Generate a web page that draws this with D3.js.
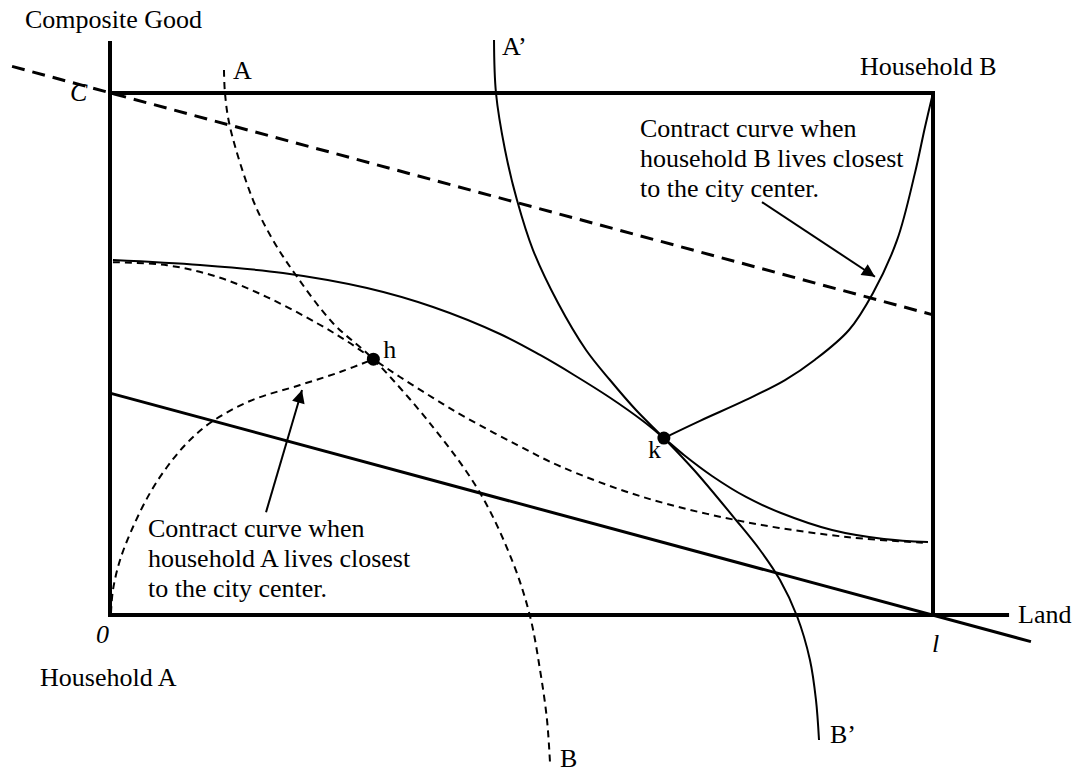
<!DOCTYPE html>
<html>
<head>
<meta charset="utf-8">
<script src="https://cdn.jsdelivr.net/npm/d3@7"></script>
<style>
  body { margin: 0; background: #fff; }
  text { font-family: "Liberation Serif", "Times New Roman", serif; fill: #000; }
</style>
</head>
<body>
<div id="d3-container"></div>
<script>
/* CONSTANTS AND GLOBALS */
const width = 1079,
  height = 776,
  fontSize = 26;

// box: land on x, composite good on y, both 0..100
const landDomain = [0, 100];
const goodDomain = [0, 100];

// the two marked allocations
const pointH = [32, 49];
const pointK = [67.3, 33.9];

// budget line through l, and the dashed price line through C
const budgetLine = [[0, 42.5], [111.9, -5.1]];
const priceLine = [[-11.9, 105.1], [100, 57.5]];

// indifference curve A ... B (dashed)
const curveAB = [
  [13.85, 104.4], [13.97, 100], [14.58, 93.5], [17.38, 79.5], [19.81, 71.8],
  [22.72, 64.8], [27.1, 55.9], [32, 49], [39.25, 36.0], [44.96, 23.4],
  [48.97, 10.0], [51.03, -0.2], [52.25, -10.5], [53.1, -20.1], [53.46, -28.2]
];

// indifference curve A' ... B' (solid)
const curveAB2 = [
  [46.66, 110.15], [46.9, 100], [48.0, 89.08], [49.45, 79.5], [51.4, 69.92],
  [54.44, 59.77], [57.84, 50.77], [60.75, 45.02], [63.91, 39.27], [67.3, 33.9],
  [70.96, 27.78], [76.06, 18.2], [78.98, 12.45], [81.41, 6.7], [83.47, -0.19],
  [85.05, -8.62], [85.78, -16.28], [86.15, -23.95]
];

// indifference curve through k (solid)
const curveBk = [
  [0.36, 68.01], [10.94, 67.05], [21.02, 65.52], [31.23, 62.64], [39.25, 59.0],
  [47.39, 53.83], [52.25, 49.81], [56.38, 45.98], [60.63, 41.76], [64.76, 37.16],
  [67.3, 33.9], [69.74, 30.65], [73.15, 26.63], [77.28, 22.61], [81.53, 19.54],
  [87.73, 16.28], [94.05, 14.56], [99.39, 13.98]
];

// indifference curve through h (dashed)
const curveBh = [
  [0.36, 67.6], [6.93, 67.0], [13.0, 64.8], [19.08, 60.9], [25.15, 55.9],
  [28.55, 52.7], [32, 49], [35.24, 45.6], [39.25, 41.6], [43.38, 37.7],
  [49.45, 32.6], [54.68, 28.5], [64.76, 22.6], [77.28, 17.8], [89.79, 14.9],
  [99.39, 13.8]
];

// contract curve when A lives closest (dashed, 0 to h)
const contractA = [
  [0.12, 0.38], [0.36, 4.79], [1.22, 10.54], [2.79, 16.86], [4.86, 23.37],
  [6.93, 28.35], [9.36, 32.95], [12.15, 36.78], [17.01, 41.0], [23.09, 44.06],
  [27.95, 46.55], [32, 49]
];

// contract curve when B lives closest (solid, k to household B origin)
const contractB = [
  [67.3, 33.9], [71.69, 37.2], [77.28, 41.2], [82.02, 45.0], [85.66, 48.9],
  [89.79, 54.6], [92.71, 61.7], [95.63, 71.8], [97.81, 84.7], [99.03, 93.5],
  [100, 100]
];

// annotation arrows [from, to]
const arrowA = [[18.96, 19.7], [23.33, 43.1]];
const arrowB = [[79.22, 79.1], [92.95, 64.8]];

const noteA = ["Contract curve when", "household A lives closest", "to the city center."];
const noteB = ["Contract curve when", "household B lives closest", "to the city center."];

let svg;
let xScale;
let yScale;

init();

function init() {
  xScale = d3.scaleLinear().domain(landDomain).range([110, 933]);
  yScale = d3.scaleLinear().domain(goodDomain).range([615, 93]);

  svg = d3.select("#d3-container")
    .append("svg")
    .attr("width", width)
    .attr("height", height);

  svg.append("defs").append("marker")
    .attr("id", "arrow")
    .attr("viewBox", "0 0 10 10")
    .attr("refX", 10)
    .attr("refY", 5)
    .attr("markerUnits", "userSpaceOnUse")
    .attr("markerWidth", 17)
    .attr("markerHeight", 13)
    .attr("orient", "auto")
    .append("path")
    .attr("d", "M0,0 L10,5 L0,10 Z")
    .attr("fill", "#000");

  draw();
}

function draw() {
  const line = d3.line()
    .x(d => xScale(d[0]))
    .y(d => yScale(d[1]));
  const smooth = d3.line()
    .x(d => xScale(d[0]))
    .y(d => yScale(d[1]))
    .curve(d3.curveCatmullRom.alpha(0.5));

  // box frame and axes
  const frame = [
    [[0, 109.6], [0, 0]],          // vertical axis
    [[0, 0], [109, 0]],            // land axis
    [[0, 100], [100, 100]],        // top of box
    [[100, 100], [100, 0]]         // right of box
  ];
  svg.selectAll("path.frame")
    .data(frame)
    .join("path")
    .attr("class", "frame")
    .attr("d", line)
    .attr("fill", "none")
    .attr("stroke", "#000")
    .attr("stroke-width", 4)
    .attr("stroke-linecap", "square");

  // budget line and price line
  svg.append("path")
    .attr("d", line(budgetLine))
    .attr("fill", "none")
    .attr("stroke", "#000")
    .attr("stroke-width", 3);

  svg.append("path")
    .attr("d", line(priceLine))
    .attr("fill", "none")
    .attr("stroke", "#000")
    .attr("stroke-width", 3)
    .attr("stroke-dasharray", "13,8");

  // curves
  const curves = [
    { pts: curveAB, dash: "7,5" },
    { pts: curveAB2, dash: null },
    { pts: curveBk, dash: null },
    { pts: curveBh, dash: "7,5" },
    { pts: contractA, dash: "7,5" },
    { pts: contractB, dash: null }
  ];
  svg.selectAll("path.curve")
    .data(curves)
    .join("path")
    .attr("class", "curve")
    .attr("d", d => smooth(d.pts))
    .attr("fill", "none")
    .attr("stroke", "#000")
    .attr("stroke-width", 2)
    .attr("stroke-dasharray", d => d.dash);

  // arrows
  svg.selectAll("path.arrow")
    .data([arrowA, arrowB])
    .join("path")
    .attr("class", "arrow")
    .attr("d", line)
    .attr("stroke", "#000")
    .attr("stroke-width", 2)
    .attr("marker-end", "url(#arrow)");

  // points h and k
  svg.selectAll("circle")
    .data([pointH, pointK])
    .join("circle")
    .attr("cx", d => xScale(d[0]))
    .attr("cy", d => yScale(d[1]))
    .attr("r", 6.5)
    .attr("fill", "#000");

  // labels
  const labels = [
    { t: "Composite Good", x: 25, y: 28 },
    { t: "C", x: 70, y: 101, it: true },
    { t: "A", x: 233, y: 79 },
    { t: "A\u2019", x: 502, y: 55 },
    { t: "Household B", x: 860, y: 75 },
    { t: "h", x: xScale(pointH[0]) + 10, y: yScale(pointH[1]) - 1 },
    { t: "k", x: xScale(pointK[0]) - 16, y: yScale(pointK[1]) + 20 },
    { t: "Land", x: 1018, y: 623 },
    { t: "0", x: 96, y: 643, it: true },
    { t: "l", x: 932, y: 652, it: true },
    { t: "Household A", x: 40, y: 686 },
    { t: "B", x: 560, y: 767 },
    { t: "B\u2019", x: 830, y: 743 }
  ];
  svg.selectAll("text.label")
    .data(labels)
    .join("text")
    .attr("class", "label")
    .attr("x", d => d.x)
    .attr("y", d => d.y)
    .attr("font-size", fontSize)
    .attr("font-style", d => d.it ? "italic" : "normal")
    .text(d => d.t);

  svg.selectAll("text.noteA")
    .data(noteA)
    .join("text")
    .attr("class", "noteA")
    .attr("x", 148)
    .attr("y", (d, i) => 537 + i * 30)
    .attr("font-size", fontSize)
    .text(d => d);

  svg.selectAll("text.noteB")
    .data(noteB)
    .join("text")
    .attr("class", "noteB")
    .attr("x", 640)
    .attr("y", (d, i) => 137 + i * 30)
    .attr("font-size", fontSize)
    .text(d => d);
}
</script>
</body>
</html>
